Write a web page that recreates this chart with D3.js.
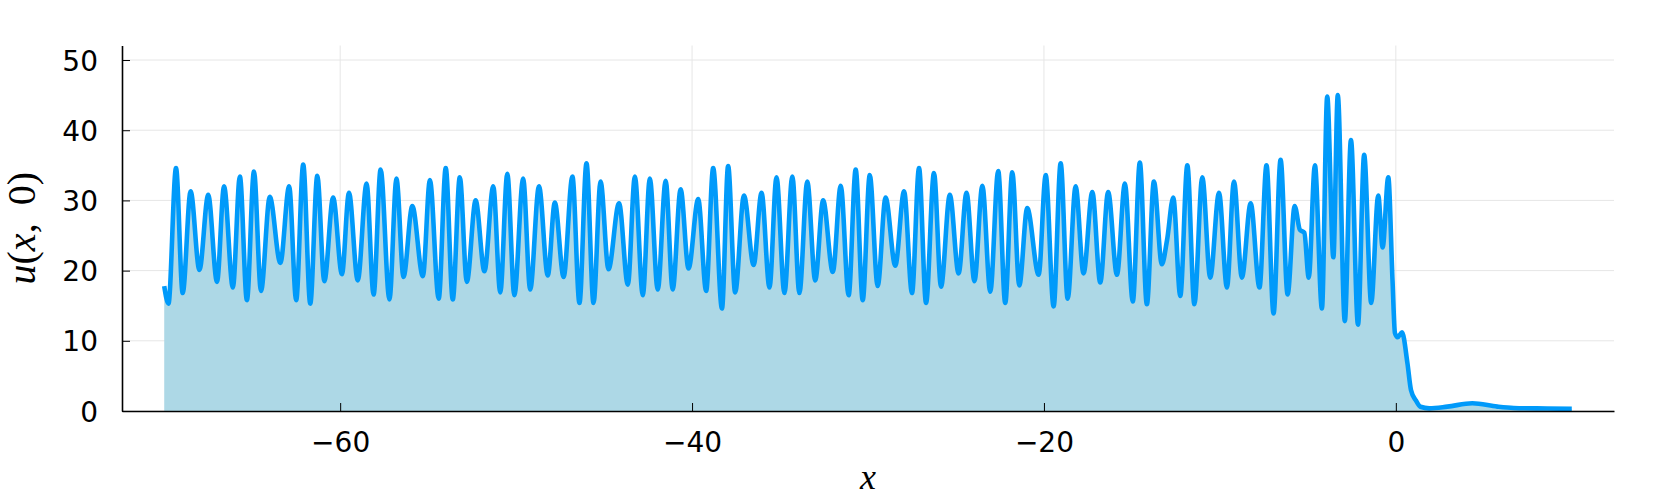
<!DOCTYPE html>
<html><head><meta charset="utf-8">
<script src="https://cdn.jsdelivr.net/npm/d3@7"></script>
<style>html,body{margin:0;padding:0;background:#fff;}svg{display:block;}</style>
</head><body>
<svg id="chart" width="1661" height="498"></svg>
<script>
// data: peaks / troughs
const xs = [-70.0,-69.76,-69.33,-68.95,-68.5,-68.0,-67.5,-67.0,-66.6,-66.1,-65.7,-65.3,-64.9,-64.5,-64.0,-63.4,-62.9,-62.5,-62.1,-61.7,-61.3,-60.9,-60.4,-59.9,-59.5,-59.0,-58.5,-58.1,-57.7,-57.2,-56.8,-56.4,-55.9,-55.3,-54.9,-54.4,-54.0,-53.6,-53.2,-52.8,-52.3,-51.8,-51.3,-50.9,-50.5,-50.1,-49.6,-49.2,-48.7,-48.2,-47.8,-47.3,-46.8,-46.4,-46.0,-45.6,-45.2,-44.75,-44.15,-43.65,-43.25,-42.8,-42.4,-41.95,-41.5,-41.1,-40.65,-40.2,-39.65,-39.2,-38.8,-38.3,-37.95,-37.55,-37.05,-36.5,-36.05,-35.6,-35.2,-34.75,-34.3,-33.9,-33.45,-33.0,-32.55,-32.0,-31.55,-31.1,-30.7,-30.3,-29.9,-29.45,-29.0,-28.45,-27.95,-27.5,-27.1,-26.7,-26.25,-25.85,-25.35,-24.85,-24.4,-23.95,-23.5,-23.05,-22.6,-22.2,-21.8,-21.4,-20.95,-20.3,-19.9,-19.45,-19.05,-18.65,-18.2,-17.75,-17.25,-16.8,-16.35,-15.85,-15.4,-14.95,-14.55,-14.15,-13.75,-13.3,-13.0,-12.65,-12.25,-11.85,-11.45,-11.0,-10.55,-10.05,-9.6,-9.2,-8.75,-8.25,-7.75,-7.35,-6.95,-6.55,-6.15,-5.75,-5.45,-5.2,-4.95,-4.6,-4.2,-3.9,-3.55,-3.3,-2.9,-2.55,-2.15,-1.8,-1.4,-1.0,-0.75,-0.43,-0.19,-0.05,0.1,0.35,0.66,0.86,1.14,1.4,1.9,2.93,4.35,5.77,6.7,8.6,10.0];
const us = [17.8,15.3,34.6,16.8,31.3,20.1,30.8,18.4,32.0,17.6,33.4,15.8,34.1,17.1,30.5,21.1,32.0,15.8,35.1,15.3,33.5,18.5,30.4,19.5,31.1,18.6,32.4,16.6,34.4,15.9,33.1,19.1,29.2,19.2,32.9,16.0,34.6,15.9,33.3,18.4,30.0,19.9,32.0,16.9,33.8,16.5,33.1,17.3,32.0,19.3,29.7,19.1,33.4,15.4,35.3,15.4,32.7,20.2,29.6,18.0,33.4,16.5,33.1,17.3,32.8,17.3,31.6,20.3,30.2,17.1,34.6,14.6,34.9,16.9,30.7,20.8,31.1,17.6,33.3,16.8,33.4,16.8,32.7,18.6,30.0,19.8,32.1,16.5,34.4,15.8,33.6,17.8,30.4,20.7,31.3,16.8,34.6,15.4,33.9,17.7,30.8,19.6,31.1,18.5,32.1,17.0,34.2,15.4,34.0,17.9,28.9,19.4,33.6,14.9,35.3,16.0,32.0,19.6,31.2,18.3,31.2,19.4,32.4,15.6,35.4,15.2,32.7,20.9,24.4,30.4,16.4,35.0,15.2,33.3,19.0,31.1,17.6,32.7,19.0,29.6,17.6,35.0,13.9,35.8,16.6,29.2,25.8,25.4,19.0,35.0,14.6,44.8,21.9,45.0,12.8,38.6,12.3,36.5,15.4,30.7,23.3,33.3,18.7,11.1,10.5,11.2,6.8,3.0,1.5,0.6,0.38,0.62,1.1,0.62,0.43,0.35,0.3];
const xTicks = [-60,-40,-20,0];
const yTicks = [0,10,20,30,40,50];
const xTickLabels = ["\u221260","\u221240","\u221220","0"];
const yTickLabels = ["0","10","20","30","40","50"];

const svg = d3.select("#chart");
const L = 122, R = 1614, T = 45.5, B = 411;
const x = d3.scaleLinear().domain([-72.4, 12.4]).range([L, R]);
const y = d3.scaleLinear().domain([0, 52.07]).range([B, T]);
const data = xs.map((v,i)=>({x:v,u:us[i]}));

// grid
const g = svg.append("g");
g.selectAll("line.gy").data(yTicks).enter().append("line")
  .attr("x1",L).attr("x2",R).attr("y1",d=>y(d)).attr("y2",d=>y(d))
  .attr("stroke","#e6e6e6").attr("stroke-width",1);
g.selectAll("line.gx").data(xTicks).enter().append("line")
  .attr("y1",T).attr("y2",B).attr("x1",d=>x(d)).attr("x2",d=>x(d))
  .attr("stroke","#e6e6e6").attr("stroke-width",1);

const curve = d3.curveMonotoneX;
svg.append("path").datum(data)
  .attr("d", d3.area().x(d=>x(d.x)).y0(y(0)).y1(d=>y(d.u)).curve(curve))
  .attr("fill","#add8e6");
svg.append("path").datum(data)
  .attr("d", d3.line().x(d=>x(d.x)).y(d=>y(d.u)).curve(curve))
  .attr("fill","none").attr("stroke","#009afa").attr("stroke-width",4.6)
  .attr("stroke-linejoin","round");

// axes
const xAxis = d3.axisBottom(x).tickValues(xTicks).tickFormat((d,i)=>xTickLabels[i]).tickSizeInner(-8).tickSizeOuter(0).tickPadding(21);
const yAxis = d3.axisLeft(y).tickValues(yTicks).tickFormat((d,i)=>yTickLabels[i]).tickSizeInner(-8).tickSizeOuter(0).tickPadding(24);
const gx = svg.append("g").attr("transform",`translate(0,${B})`).call(xAxis);
const gy = svg.append("g").attr("transform",`translate(${L},0)`).call(yAxis);
[gx,gy].forEach(a=>{
  a.select(".domain").attr("stroke","#000").attr("stroke-width",1.6);
  a.selectAll(".tick line").attr("stroke","#000").attr("stroke-width",1);
  a.selectAll(".tick text").attr("font-family","DejaVu Sans").attr("font-size",28).attr("fill","#000");
});
gy.selectAll(".tick text").attr("dy","0.36em");

// axis titles
svg.append("text").attr("x",(L+R)/2).attr("y",489).attr("text-anchor","middle")
  .attr("font-family","Liberation Serif").attr("font-style","italic").attr("font-size",36).text("x");
const yl = svg.append("text").attr("transform",`translate(35,${(T+B)/2}) rotate(-90)`)
  .attr("text-anchor","middle").attr("font-family","Liberation Serif").attr("font-size",40);
yl.append("tspan").attr("font-style","italic").text("u");
yl.append("tspan").text("(");
yl.append("tspan").attr("font-style","italic").text("x");
yl.append("tspan").text(",\u2009 0)");
</script>
</body></html>
